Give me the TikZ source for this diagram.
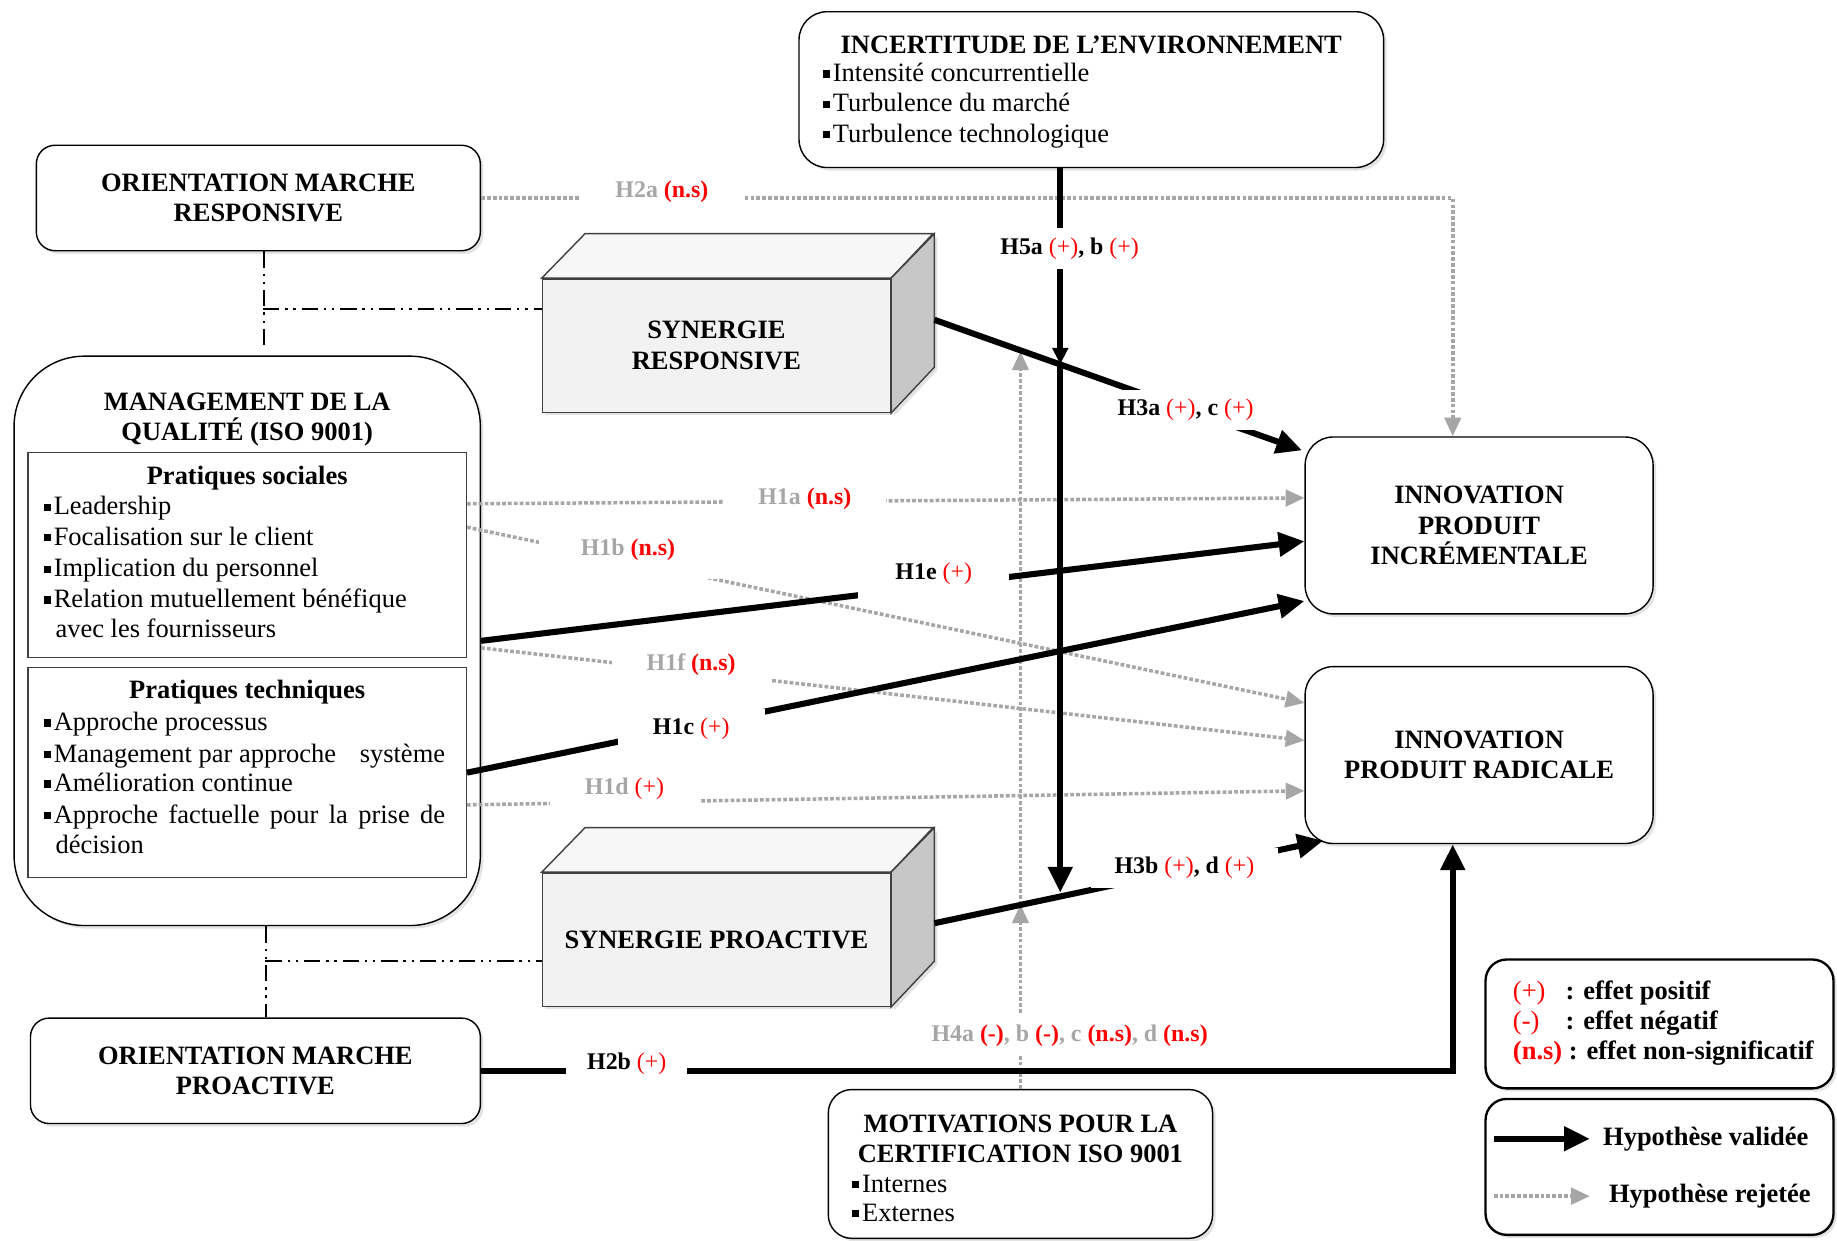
\documentclass[tikz,border=0pt]{standalone}
\usepackage{fontspec}
\setmainfont{Liberation Serif}
\usetikzlibrary{arrows.meta,calc,shadows}
\definecolor{lg}{RGB}{166,166,166}
\definecolor{rd}{RGB}{255,0,0}
\newcommand\fs{\fontsize{11.3}{13}\selectfont}
\newcommand\fl{\fontsize{10.2}{12}\selectfont\bfseries}
\newcommand\bul{\raisebox{0.32ex}{\rule{0.27em}{0.27em}}\kern1.2pt}
\newcommand\rp[1]{\textcolor{rd}{\mdseries #1}}
\newcommand\rb[1]{\textcolor{rd}{\bfseries #1}}
\newcommand\gy[1]{\textcolor{lg}{#1}}
\begin{document}
\begin{tikzpicture}[x=0.5pt,y=-0.5pt,font=\fs,
  shd/.style={drop shadow={shadow xshift=1.3pt,shadow yshift=-1.3pt,opacity=0.22}},
  rbox/.style={draw,line width=0.6pt,fill=white,rounded corners=#1,shd,inner sep=0pt,align=center,font=\fs\bfseries},
  rbox/.default=8pt,
  ibox/.style={draw=black!75,line width=0.6pt,fill=white,inner sep=0pt},
  face/.style={draw=black!75,line width=0.6pt},
  cube/.style={draw=black!75,line width=0.6pt,fill=black!5,shd,inner sep=0pt,align=center,font=\fs\bfseries,minimum width=148.5pt,minimum height=57pt},
  itm/.style={anchor=west,inner sep=0pt,text height=8pt,text depth=2.5pt},
  ttl/.style={inner sep=0pt,align=center,font=\fs\bfseries},
  val/.style={draw=black,line width=2.6pt,-{Triangle[length=11pt,width=10pt]}},
  valsm/.style={draw=black,line width=2.6pt,-{Triangle[length=7pt,width=6.5pt]}},
  rej/.style={draw=lg,line width=1.5pt,dash pattern=on 1.6pt off 0.9pt,-{Triangle[length=8pt,width=7pt]}},
  ddot/.style={draw=black,line width=0.9pt,dash pattern=on 7pt off 2.5pt on 1pt off 2.5pt on 1pt off 2.5pt},
  lbl/.style={fill=white,font=\fl,inner xsep=15pt,inner ysep=4pt},
  ]
\useasboundingbox (0,0) rectangle (1568,1059);

% ---------- boxes ----------
\node[rbox=12pt,minimum width=249.5pt,minimum height=66.5pt] (env) at (931.5,76.5) {};
\node[ttl] (envt) at (931.5,38) {INCERTITUDE DE L’ENVIRONNEMENT};
\node[itm] (env1) at (702,64) {\bul Intensité concurrentielle};
\node[itm] (env2) at (702,90) {\bul Turbulence du marché};
\node[itm] (env3) at (702,116) {\bul Turbulence technologique};

\node[rbox=8pt,minimum width=189.5pt,minimum height=45pt] (omr) at (220.5,169) {ORIENTATION MARCHE\\RESPONSIVE};

\node[rbox=30pt,minimum width=199pt,minimum height=243pt] (mgmt) at (211,547) {};
\node[ttl] (mgmtt) at (211,358) {MANAGEMENT DE LA\\QUALITÉ (ISO 9001)};
\node[ibox,minimum width=187pt,minimum height=87.5pt] (soc) at (211,473.5) {};
\node[ttl] (soct) at (211,408) {Pratiques sociales};
\node[itm] (s1) at (37,434) {\bul Leadership};
\node[itm] (s2) at (37,460) {\bul Focalisation sur le client};
\node[itm] (s3) at (37,487) {\bul Implication du personnel};
\node[itm] (s4) at (37,513) {\bul Relation mutuellement bénéfique};
\node[itm] (s5) at (47,539) {avec les fournisseurs};
\node[ibox,minimum width=187pt,minimum height=89.5pt] (tech) at (211,659.5) {};
\node[ttl] (techt) at (211,591) {Pratiques techniques};
\node[itm] (t1) at (37,618) {\bul Approche processus};
\node[itm] (t2) at (37,645) {\bul\makebox[167pt][l]{Management par approche\hfill système}};
\node[itm] (t3) at (37,670) {\bul Amélioration continue};
\node[itm] (t4) at (37,697) {\bul\makebox[167pt][s]{Approche factuelle pour la prise de}};
\node[itm] (t5) at (47,723) {décision};

\node[cube] (sr) at (611.5,295) {SYNERGIE\\RESPONSIVE};
\path[face,fill=black!3] (sr.north west) -- ++(37,-38) -- ++(297,0) -- (sr.north east) -- cycle;
\path[face,fill=black!22,shd] (sr.north east) -- ++(37,-38) -- ++(0,114) -- (sr.south east) -- cycle;

\node[cube] (sp) at (611.5,802) {SYNERGIE PROACTIVE};
\path[face,fill=black!3] (sp.north west) -- ++(37,-38) -- ++(297,0) -- (sp.north east) -- cycle;
\path[face,fill=black!22,shd] (sp.north east) -- ++(37,-38) -- ++(0,114) -- (sp.south east) -- cycle;

\node[rbox=8pt,minimum width=192pt,minimum height=45pt] (omp) at (218,914) {ORIENTATION MARCHE\\PROACTIVE};

\node[rbox=10pt,minimum width=164pt,minimum height=63.5pt] (mot) at (871,993.5) {};
\node[ttl] (mott) at (871,972) {MOTIVATIONS POUR LA\\CERTIFICATION ISO 9001};
\node[itm] (mot1) at (727,1012) {\bul Internes};
\node[itm] (mot2) at (727,1037) {\bul Externes};

\node[rbox=12pt,minimum width=148.5pt,minimum height=75.5pt] (incr) at (1262.5,448.5) {INNOVATION\\PRODUIT\\INCRÉMENTALE};
\node[rbox=12pt,minimum width=148.5pt,minimum height=75.5pt] (rad) at (1262.5,644.5) {INNOVATION\\PRODUIT RADICALE};

% ---------- legend ----------
\node[rbox=9pt,line width=1pt,minimum width=148.5pt,minimum height=55pt] (leg1) at (1416.5,874) {};
\node[itm] (l1a) at (1291,848) {\rp{(+)}};
\node[itm,font=\fs\bfseries] (l1b) at (1336,848) {: effet positif};
\node[itm] (l2a) at (1291,873) {\rp{(-)}};
\node[itm,font=\fs\bfseries] (l2b) at (1336,873) {: effet négatif};
\node[itm,font=\fs\bfseries] (l3) at (1291,899) {\rb{(n.s)} : effet non-significatif};

\node[rbox=9pt,line width=1pt,minimum width=148.5pt,minimum height=58pt] (leg2) at (1416.5,996) {};
\coordinate (lv1) at (1275,972);
\coordinate (lv2) at (1357,972);
\coordinate (lr1) at (1275,1021);
\coordinate (lr2) at (1357,1021);
\draw[val] (lv1) -- (lv2);
\draw[rej] (lr1) -- (lr2);
\node[itm,font=\fs\bfseries] (lvt) at (1368,972) {Hypothèse validée};
\node[itm,font=\fs\bfseries] (lrt) at (1373,1021) {Hypothèse rejetée};

% ---------- dash-dot links ----------
\draw[ddot] ($(omr.south)+(4.5,0)$) -- ($(mgmt.north)+(14,-4)$);
\draw[ddot] ($(sr.west)+(-238,-31)$) -- ($(sr.west)+(0,-31)$);
\draw[ddot] ($(mgmt.south)+(16,0)$) -- ($(omp.north)+(9,0)$);
\draw[ddot] ($(sp.west)+(-236,18)$) -- ($(sp.west)+(0,18)$);

% ---------- crossing points ----------
\coordinate (c5a) at (905,311);
\coordinate (c5b) at (905,762);
\coordinate (c4a) at (871,300);
\coordinate (c4b) at (871,772);

% ---------- rejected hypotheses ----------
\draw[rej] (omr.east) -| ($(incr.north)+(-22.5,0)$);
\draw[rej] ($(soc.east)+(0,-43.5)$) -- ($(incr.west)+(0,-23.5)$);
\draw[rej] ($(soc.east)+(0,-23.5)$) -- ($(rad.west)+(0,-44.5)$);
\draw[rej] ($(mgmt.east)+(0,6)$) -- ($(rad.west)+(0,-12.5)$);
\draw[rej] ($(tech.east)+(0,27.5)$) -- ($(rad.west)+(0,30.5)$);
\draw[rej] (mot.north) -- (c4b);
\draw[rej] (c4b) -- (c4a);

% ---------- validated hypotheses ----------
\draw[val] (mgmt.east) -- ($(incr.west)+(0,13.5)$);
\draw[val] (tech.east) -- ($(incr.west)+(0,64.5)$);
\draw[val] ($(sr.east)+(37,-22)$) -- ($(incr.north west)+(-2,12)$);
\draw[val] ($(sp.east)+(37,-14)$) -- ($(rad.south west)+(16,-3)$);
\draw[val] (omp.east) -| ($(rad.south)+(-22.5,0)$);
\draw[valsm] ($(env.south)+(-26.5,0)$) -- (c5a);
\draw[val] (c5a) -- (c5b);

% ---------- labels ----------
\node[lbl] (h2a) at (565,164) {\gy{H2a} \rb{(n.s)}};
\node[lbl] (h5) at (913,212) {H5a \rp{(+)}, b \rp{(+)}};
\node[lbl] (h3a) at (1012,350) {H3a \rp{(+)}, c \rp{(+)}};
\node[lbl] (h1a) at (687,426) {\gy{H1a} \rb{(n.s)}};
\node[lbl,inner ysep=8pt,inner xsep=18pt] (h1b) at (536,469) {\gy{H1b} \rb{(n.s)}};
\node[lbl,inner ysep=7pt,inner xsep=16pt] (h1e) at (797,490) {H1e \rp{(+)}};
\node[lbl] (h1f) at (590,567) {\gy{H1f} \rb{(n.s)}};
\node[lbl] (h1c) at (590,622) {H1c \rp{(+)}};
\node[lbl] (h1d) at (533,673) {\gy{H1d} \rp{(+)}};
\node[lbl,inner xsep=10pt] (h3b) at (1011,741) {H3b \rp{(+)}, d \rp{(+)}};
\node[lbl,inner xsep=10pt] (h4) at (913,884) {\gy{H4a} \rb{(-)}\gy{, b} \rb{(-)}\gy{, c} \rb{(n.s)}\gy{, d} \rb{(n.s)}};
\node[lbl,inner xsep=9pt] (h2b) at (535,908) {H2b \rp{(+)}};
\end{tikzpicture}
\end{document}
